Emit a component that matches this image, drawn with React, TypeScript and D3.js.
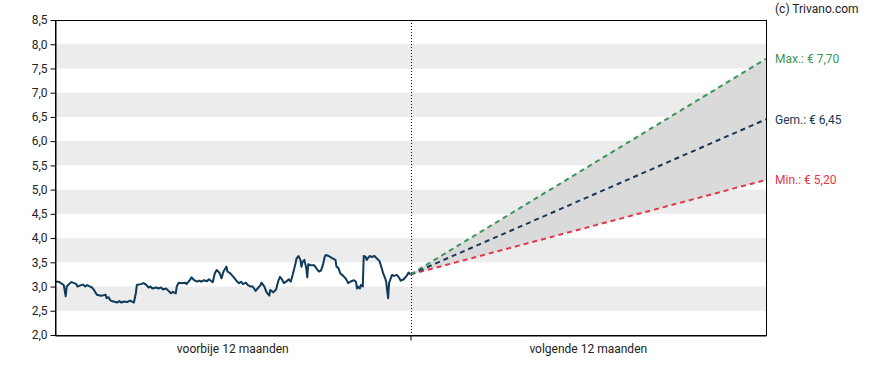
import * as d3 from "d3";
import React, { useEffect, useRef } from "react";

// dagen sinds start (0..365) en koers in euro
const pastDays = [
  0, 4, 6, 9, 11, 12, 16, 17, 22, 23, 27, 29, 31, 33, 36, 38, 40, 43, 47, 50,
  52, 53, 55, 57, 60, 64, 66, 68, 71, 74, 77, 79, 81, 83, 84, 88, 91, 94, 96,
  98, 100, 104, 106, 109, 111, 114, 116, 119, 121, 124, 125, 127, 130, 134,
  135, 139, 140, 143, 146, 148, 150, 153, 156, 158, 160, 162, 164, 166, 169,
  171, 173, 176, 177, 180, 184, 187, 189, 191, 193, 196, 198, 201, 203, 206,
  208, 211, 212, 215, 217, 220, 221, 224, 227, 229, 231, 233, 235, 238, 240,
  242, 244, 247, 248, 250, 252, 253, 254, 256, 258, 259, 260, 262, 266, 269,
  271, 273, 275, 277, 278, 281, 284, 288, 289, 291, 293, 296, 299, 301, 303,
  307, 309, 310, 311, 313, 314, 316, 317, 319, 320, 323, 325, 328, 330, 333,
  335, 337, 339, 340, 342, 343, 346, 348, 351, 353, 355, 358, 361, 363, 365,
];
const pastValues = [
  3.1, 3.1, 3.07, 3.03, 2.8, 3.0, 3.08, 3.09, 3.05, 3.0, 3.03, 3.04, 3.0, 3.03,
  3.0, 2.98, 2.93, 2.83, 2.81, 2.82, 2.83, 2.76, 2.78, 2.71, 2.69, 2.67, 2.7,
  2.67, 2.69, 2.68, 2.71, 2.69, 2.67, 2.86, 3.03, 3.05, 3.07, 3.03, 2.98, 3.0,
  2.96, 2.98, 2.96, 2.98, 2.94, 2.96, 2.92, 2.86, 2.89, 2.86, 3.0, 3.08, 3.07,
  3.08, 3.05, 3.15, 3.19, 3.13, 3.1, 3.12, 3.1, 3.13, 3.11, 3.15, 3.12, 3.09,
  3.27, 3.34, 3.28, 3.17, 3.31, 3.41, 3.31, 3.27, 3.18, 3.1, 3.07, 3.1, 3.05,
  3.08, 3.03, 3.0, 3.0, 2.91, 2.96, 3.03, 3.08, 3.0, 2.89, 2.81, 2.93, 2.88,
  2.94, 3.1, 3.2, 3.15, 3.07, 3.11, 3.15, 3.1, 3.24, 3.48, 3.58, 3.63, 3.55,
  3.41, 3.5, 3.55, 3.38, 3.19, 3.46, 3.44, 3.44, 3.36, 3.31, 3.33, 3.44, 3.62,
  3.65, 3.63, 3.59, 3.55, 3.41, 3.38, 3.27, 3.22, 3.15, 3.07, 3.1, 3.13, 3.1,
  2.96, 3.0, 2.96, 3.03, 3.0, 3.63, 3.61, 3.55, 3.63, 3.61, 3.63, 3.59, 3.53,
  3.41, 3.27, 3.17, 3.1, 2.76, 3.07, 3.24, 3.22, 3.24, 3.19, 3.12, 3.15, 3.22,
  3.29, 3.25,
];

const forecastDays = [365, 730];
const forecastMax = [3.25, 7.7];
const forecastAvg = [3.25, 6.45];
const forecastMin = [3.25, 5.2];

const yTicks = [2, 2.5, 3, 3.5, 4, 4.5, 5, 5.5, 6, 6.5, 7, 7.5, 8, 8.5];
const periodLabels = ["voorbije 12 maanden", "volgende 12 maanden"];
const targetLabels = ["Max.: € 7,70", "Gem.: € 6,45", "Min.: € 5,20"];

const colorLine = "#0f3a5a";
const colorMax = "#3b9558";
const colorAvg = "#1b3654";
const colorMin = "#e3364b";
const colorStripe = "#ececec";
const colorCone = "#dadada";

const App = () => {
  const ref = useRef(null);

  useEffect(() => {
    const width = 888;
    const height = 370;
    const margin = { top: 20, right: 122, bottom: 35, left: 55 };
    const w = width - margin.left - margin.right;
    const h = height - margin.top - margin.bottom;

    d3.select(ref.current).selectAll("*").remove();

    const root = d3
      .select(ref.current)
      .append("svg")
      .attr("width", width)
      .attr("height", height)
      .style("display", "block")
      .style("font-family", "Roboto, sans-serif");

    const svg = root
      .append("g")
      .attr("transform", `translate(${margin.left}, ${margin.top})`);

    const x = d3.scaleLinear().domain([0, 730]).range([0, w]);
    const y = d3.scaleLinear().domain([2, 8.5]).range([h, 0]);

    // grijze banden
    for (let i = 0; i < yTicks.length - 1; i++) {
      if (i % 2 === 1) {
        svg
          .append("rect")
          .attr("x", 0)
          .attr("width", w)
          .attr("y", y(yTicks[i + 1]))
          .attr("height", y(yTicks[i]) - y(yTicks[i + 1]))
          .attr("fill", colorStripe);
      }
    }

    // kegel tussen min en max
    const cone = forecastDays.map((d, i) => ({
      d,
      lo: forecastMin[i],
      hi: forecastMax[i],
    }));
    svg
      .append("path")
      .datum(cone)
      .attr("fill", colorCone)
      .attr(
        "d",
        d3
          .area()
          .x((d) => x(d.d))
          .y0((d) => y(d.lo))
          .y1((d) => y(d.hi))
      );

    // verticale stippellijn
    svg
      .append("line")
      .attr("x1", Math.round(x(365)) + 0.5)
      .attr("x2", Math.round(x(365)) + 0.5)
      .attr("y1", 0)
      .attr("y2", h)
      .attr("stroke", "#000")
      .attr("stroke-dasharray", "1,2");

    // koerslijn
    const line = d3
      .line()
      .x((d) => x(d[0]))
      .y((d) => y(d[1]));
    svg
      .append("path")
      .datum(pastDays.map((d, i) => [d, pastValues[i]]))
      .attr("fill", "none")
      .attr("stroke", colorLine)
      .attr("stroke-width", 2)
      .attr("stroke-linejoin", "round")
      .attr("d", line);

    // prognoselijnen
    [
      [forecastMin, colorMin],
      [forecastAvg, colorAvg],
      [forecastMax, colorMax],
    ].forEach(([vals, col]) => {
      svg
        .append("path")
        .datum(forecastDays.map((d, i) => [d, vals[i]]))
        .attr("fill", "none")
        .attr("stroke", col)
        .attr("stroke-width", 2)
        .attr("stroke-dasharray", "5,4")
        .attr("d", line);
    });

    // kader
    svg
      .append("rect")
      .attr("x", 0.5)
      .attr("y", 0.5)
      .attr("width", w)
      .attr("height", h)
      .attr("fill", "none")
      .attr("stroke", "#000");

    // y-as
    const yAxis = svg
      .append("g")
      .attr("transform", "translate(0.5,0)")
      .call(
        d3
          .axisLeft(y)
          .tickValues(yTicks)
          .tickSize(5)
          .tickSizeOuter(0)
          .tickPadding(3)
          .tickFormat((v) => d3.format(".1f")(v).replace(".", ","))
      );
    yAxis.select(".domain").attr("stroke", "#000");
    yAxis
      .selectAll(".tick text")
      .attr("fill", "#222")
      .style("font-size", "12px")
      .style("font-family", "Roboto, sans-serif");

    // x-as
    const xAxis = svg
      .append("g")
      .attr("transform", `translate(0, ${h + 0.5})`)
      .call(d3.axisBottom(x).tickValues([365]).tickSize(5).tickSizeOuter(0).tickFormat(() => ""));
    xAxis.select(".domain").attr("stroke", "#000");

    [182.5, 547.5].forEach((d, i) => {
      svg
        .append("text")
        .attr("x", x(d))
        .attr("y", h + 18)
        .attr("text-anchor", "middle")
        .attr("fill", "#222")
        .style("font-size", "12px")
        .text(periodLabels[i]);
    });

    // labels rechts
    [
      [forecastMax[1], colorMax, targetLabels[0]],
      [forecastAvg[1], colorAvg, targetLabels[1]],
      [forecastMin[1], colorMin, targetLabels[2]],
    ].forEach(([v, col, label]) => {
      svg
        .append("text")
        .attr("x", w + 9)
        .attr("y", y(v))
        .attr("dy", "0.35em")
        .attr("fill", col)
        .style("font-size", "12px")
        .text(label);
    });

    root
      .append("text")
      .attr("x", 775)
      .attr("y", 13)
      .attr("fill", "#222")
      .style("font-size", "12px")
      .text("(c) Trivano.com");
  }, []);

  return <div ref={ref} style={{ position: "absolute", left: 0, top: 0 }} />;
};

export default App;
